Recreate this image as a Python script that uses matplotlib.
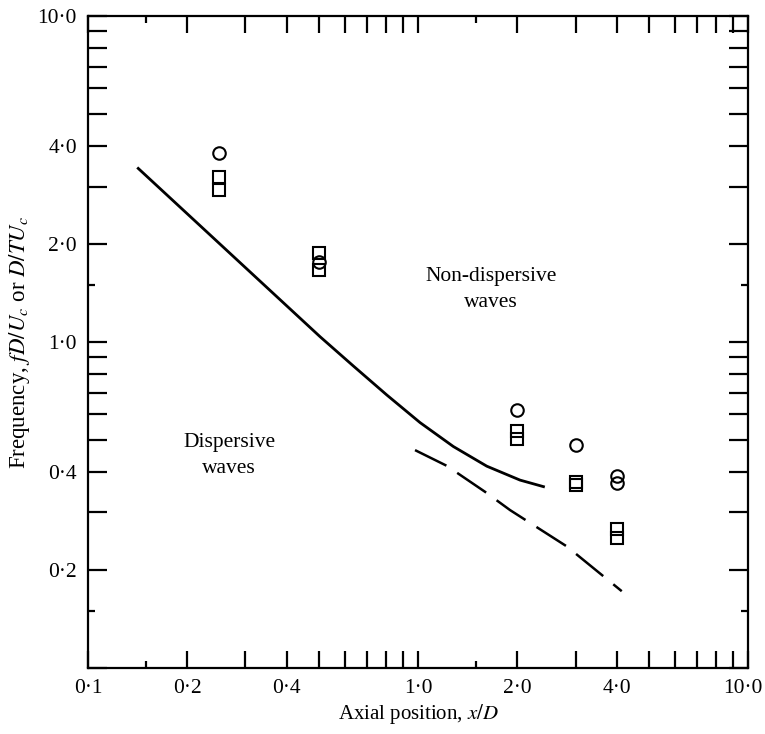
import matplotlib
matplotlib.use("Agg")
import matplotlib.pyplot as plt
from matplotlib.ticker import FixedLocator, FuncFormatter, NullFormatter
from matplotlib.transforms import ScaledTranslation

plt.rcParams["font.family"] = ["Liberation Serif", "DejaVu Serif"]
plt.rcParams["mathtext.fontset"] = "stix"

# measured points (circles and squares)
circle_x = [0.25, 0.5, 2.0, 3.0, 4.0, 4.0]
circle_y = [3.80, 1.76, 0.62, 0.483, 0.388, 0.370]
square_x = [0.25, 0.25, 0.5, 0.5, 2.0, 2.0, 3.0, 3.0, 4.0, 4.0]
square_y = [3.20, 2.92, 1.87, 1.66, 0.535, 0.505, 0.372, 0.365, 0.266, 0.250]

# boundary curves
solid_x = [0.142, 0.505, 0.637, 0.804, 1.014, 1.279, 1.615, 2.037, 2.398]
solid_y = [3.41, 1.038, 0.844, 0.688, 0.566, 0.478, 0.416, 0.377, 0.360]
dash_x = [0.979, 1.222, 1.596, 1.90, 2.822, 4.14]
dash_y = [0.466, 0.417, 0.347, 0.305, 0.236, 0.172]

x_labelled = [0.1, 0.2, 0.4, 1.0, 2.0, 4.0, 10.0]
y_labelled = [0.2, 0.4, 1.0, 2.0, 4.0, 10.0]
major = [m * 10 ** e for e in (-1, 0) for m in range(1, 10)] + [10.0]
minor = [0.15, 1.5]

fig = plt.figure(figsize=(7.65, 7.34), dpi=100)
ax = fig.add_axes([0.115, 0.09, 0.863, 0.888])

ax.plot(solid_x, solid_y, color="black", lw=2.0)
ax.plot(dash_x, dash_y, color="black", lw=1.8, dashes=(14, 5.2))
ax.plot(circle_x, circle_y, "o", ms=9, mfc="none", mec="black", mew=1.5)
ax.plot(square_x, square_y, "s", ms=9, mfc="none", mec="black", mew=1.5)

ax.set_xscale("log")
ax.set_yscale("log")
ax.set_xlim(0.1, 10)
ax.set_ylim(0.1, 10)


def make_fmt(labelled):
    def fmt(v, pos):
        for l in labelled:
            if abs(v - l) < 1e-6:
                return f"{l:.1f}".replace(".", "\u00b7")
        return ""
    return fmt


for axis, labs in ((ax.xaxis, x_labelled), (ax.yaxis, y_labelled)):
    axis.set_major_locator(FixedLocator(major))
    axis.set_minor_locator(FixedLocator(minor))
    axis.set_major_formatter(FuncFormatter(make_fmt(labs)))
    axis.set_minor_formatter(NullFormatter())

ax.tick_params(which="major", direction="in", length=12, width=1.6,
               top=True, right=True, labelsize=15.5, pad=8)
ax.tick_params(axis="y", which="major", length=13.5)
ax.tick_params(which="minor", direction="in", length=5, width=1.6,
               top=True, right=True)
for s in ax.spines.values():
    s.set_linewidth(1.6)

# nudge the last x label ("10·0") so it stays inside the figure
last = ax.get_xticklabels()[-1]
last.set_transform(last.get_transform() +
                   ScaledTranslation(-0.05, 0, fig.dpi_scale_trans))

ax.text(0.2675, 0.449, "Dispersive\nwaves", ha="center", va="center",
        fontsize=15.5, linespacing=1.5)
ax.text(1.66, 1.45, "Non-dispersive\nwaves", ha="center", va="center",
        fontsize=15.5, linespacing=1.5)

ax.set_xlabel("Axial position, $x/D$", fontsize=15, labelpad=3)
ax.set_ylabel("Frequency, $fD/U_c$ or $D/TU_c$", fontsize=16.5, labelpad=4)

fig.savefig("out.png", dpi=100)
